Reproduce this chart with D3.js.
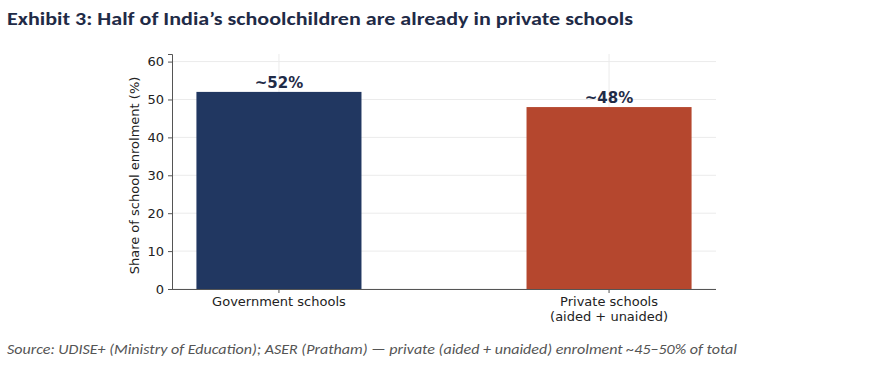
<!DOCTYPE html>
<html>
<head>
<meta charset="utf-8">
<script src="https://cdn.jsdelivr.net/npm/d3@7"></script>
<style>
  body { margin: 0; background: #fff; }
  svg { display: block; }
</style>
</head>
<body>
<svg id="chart" width="883" height="367"></svg>
<script>
// Chart data
const categories = ["Government schools", "Private schools\n(aided + unaided)"];
const shares = [52, 48];
const valueLabels = ["~52%", "~48%"];
const barColors = ["#213761", "#b5472e"];
const yTicks = [0, 10, 20, 30, 40, 50, 60];

const svg = d3.select("#chart");
const m = { left: 172, right: 716, top: 54, bottom: 289 };

// scales
let x = d3.scaleBand()
  .domain(categories)
  .range([m.left, m.right])
  .paddingInner(0.5)
  .paddingOuter(0.074);

let y = d3.scaleLinear().domain([0, 62]).range([m.bottom, m.top]);

// Title
svg.append("text")
  .attr("x", 7).attr("y", 25)
  .attr("font-family", "Carlito, 'Open Sans', sans-serif")
  .attr("font-weight", "bold")
  .attr("font-size", 19)
  .attr("fill", "#1f2b47")
  .attr("textLength", 626)
  .attr("lengthAdjust", "spacingAndGlyphs")
  .text("Exhibit 3: Half of India\u2019s schoolchildren are already in private schools");

// grid
let grid = svg.append("g");
grid.selectAll("line.h")
  .data(yTicks).enter()
  .append("line")
  .attr("x1", m.left).attr("x2", m.right)
  .attr("y1", d => y(d)).attr("y2", d => y(d))
  .attr("stroke", "#ebebeb").attr("stroke-width", 1);
grid.selectAll("line.v")
  .data(categories).enter()
  .append("line")
  .attr("x1", d => x(d) + x.bandwidth() / 2).attr("x2", d => x(d) + x.bandwidth() / 2)
  .attr("y1", m.top).attr("y2", m.bottom)
  .attr("stroke", "#ebebeb").attr("stroke-width", 1);

// bars
svg.selectAll("rect.bar")
  .data(categories).enter()
  .append("rect")
  .attr("class", "bar")
  .attr("x", d => x(d))
  .attr("width", x.bandwidth())
  .attr("y", (d, i) => y(shares[i]))
  .attr("height", (d, i) => y(0) - y(shares[i]))
  .attr("fill", (d, i) => barColors[i]);

// value labels
svg.selectAll("text.val")
  .data(categories).enter()
  .append("text")
  .attr("x", d => x(d) + x.bandwidth() / 2)
  .attr("y", (d, i) => y(shares[i]) - 4)
  .attr("text-anchor", "middle")
  .attr("font-family", "'DejaVu Sans', sans-serif")
  .attr("font-weight", "bold")
  .attr("font-size", 15)
  .attr("fill", "#1f2b47")
  .text((d, i) => valueLabels[i]);

// y axis
let yAxis = svg.append("g")
  .attr("transform", `translate(${m.left},0)`)
  .call(d3.axisLeft(y).tickValues(yTicks).tickSize(4).tickPadding(4));
yAxis.select(".domain").attr("stroke", "#555");
yAxis.selectAll(".tick line").attr("stroke", "#555");
yAxis.selectAll(".tick text")
  .attr("font-family", "'DejaVu Sans', sans-serif")
  .attr("font-size", 13)
  .attr("fill", "#222");

// x axis
let xAxis = svg.append("g")
  .attr("transform", `translate(0,${m.bottom})`)
  .call(d3.axisBottom(x).tickSize(4).tickPadding(4).tickFormat(""));
xAxis.select(".domain").attr("stroke", "#555").attr("d", `M${m.left},0.5H${m.right}`);
xAxis.selectAll(".tick line").attr("stroke", "#555");
xAxis.selectAll(".tick").each(function(d) {
  let lines = d.split("\n");
  let t = d3.select(this).append("text")
    .attr("y", 17)
    .attr("text-anchor", "middle")
    .attr("font-family", "'DejaVu Sans', sans-serif")
    .attr("font-size", 13)
    .attr("fill", "#222");
  lines.forEach((l, i) => {
    t.append("tspan").attr("x", 0).attr("dy", i == 0 ? 0 : 15).text(l);
  });
});

// y axis label
svg.append("text")
  .attr("transform", `translate(139,${(m.top + m.bottom) / 2 + 4}) rotate(-90)`)
  .attr("text-anchor", "middle")
  .attr("font-family", "'DejaVu Sans', sans-serif")
  .attr("font-size", 13)
  .attr("fill", "#222")
  .text("Share of school enrolment (%)");

// source note
svg.append("text")
  .attr("x", 7).attr("y", 354)
  .attr("font-family", "Carlito, 'Open Sans', sans-serif")
  .attr("font-style", "italic")
  .attr("font-size", 14)
  .attr("fill", "#555")
  .attr("textLength", 730)
  .attr("lengthAdjust", "spacingAndGlyphs")
  .text("Source: UDISE+ (Ministry of Education); ASER (Pratham) \u2014 private (aided + unaided) enrolment ~45\u201350% of total");
</script>
</body>
</html>
